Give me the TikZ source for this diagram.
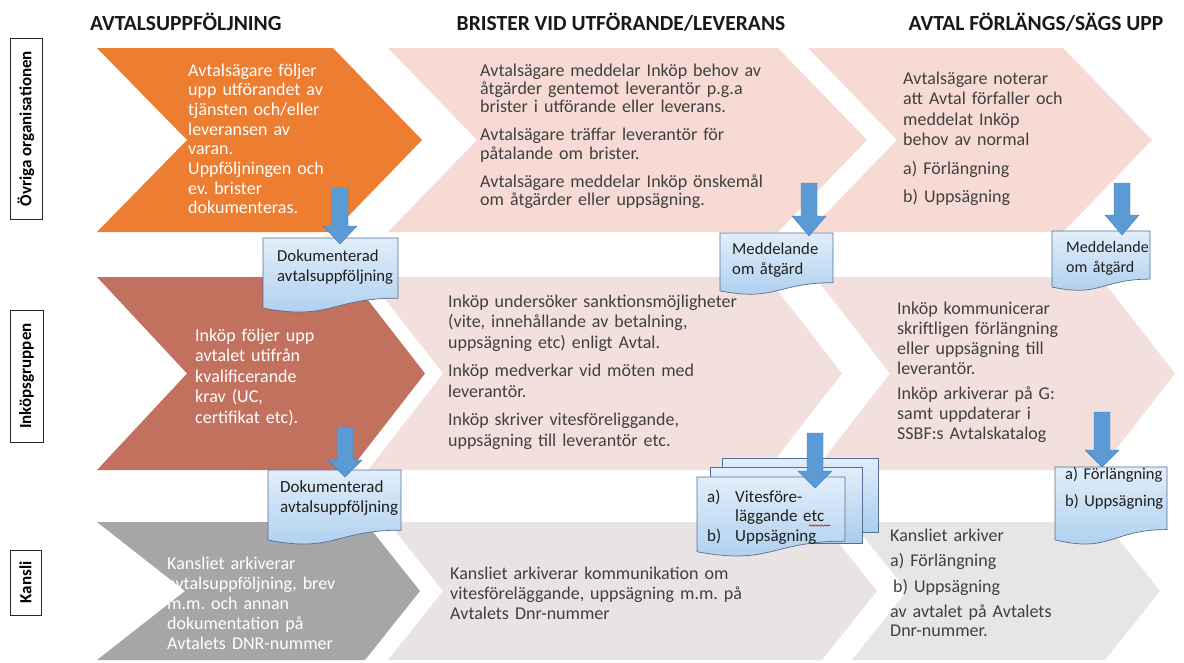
\documentclass[tikz,border=0pt]{standalone}
\usepackage{fontspec}
\setmainfont{Carlito}
\frenchspacing
\usetikzlibrary{decorations.pathmorphing}
\definecolor{orangeC}{RGB}{237,125,49}
\definecolor{brownC}{RGB}{194,113,95}
\definecolor{grayC}{RGB}{166,166,166}
\definecolor{pinkA}{RGB}{247,218,211}
\definecolor{pinkB}{RGB}{243,224,221}
\definecolor{grayB}{RGB}{234,227,227}
\definecolor{grayD}{RGB}{230,230,230}
\definecolor{bodygray}{RGB}{64,64,64}
\definecolor{docTop}{RGB}{226,238,250}
\definecolor{docBot}{RGB}{170,205,238}
\definecolor{docEdge}{RGB}{84,112,150}
\definecolor{arrFill}{RGB}{91,155,213}
\definecolor{arrEdge}{RGB}{70,125,180}
\newcommand{\chevshape}[7]{\fill[#1] (#2,#6) -- (#4,#6) -- (#5,{(#6+#7)/2}) -- (#4,#7) -- (#2,#7) -- (#3,{(#6+#7)/2}) -- cycle;}
\newcommand{\docshape}[4]{\path[docst] (#1,#3) -- (#2,#3) -- (#2,{#3+0.802*#4}) .. controls ({(#1+#2)/2},{#3+0.802*#4}) and ({(#1+#2)/2},{#3+1.107*#4}) .. (#1,{#3+0.934*#4}) -- cycle;}
\newcommand{\blockarrow}[4]{\path[arrst] ({#1-8},#2) -- ({#1+8},#2) -- ({#1+8},#3) -- ({#1+17},#3) -- (#1,#4) -- ({#1-17},#3) -- ({#1-8},#3) -- cycle;}
\begin{document}
\begin{tikzpicture}[x=1pt,y=-1pt,
  txt/.style={anchor=base west, inner sep=0pt, text width=420pt, align=left},
  wtext/.style={txt, text=white},
  dtext/.style={txt, text=bodygray},
  hdr/.style={inner sep=0pt, text=black!90, font=\bfseries\fontsize{21.5}{25}\selectfont},
  lab/.style={draw=black!85, line width=0.8pt, rotate=90, inner sep=0pt, font=\bfseries\fontsize{17}{19}\selectfont},
  docst/.style={draw=docEdge, line width=0.7pt, top color=docTop, bottom color=docBot},
  arrst/.style={fill=arrFill, draw=arrEdge, line width=0.4pt},
  doctext/.style={txt, text=black!88, font=\fontsize{16.7}{20}\selectfont}
]
\useasboundingbox (0,0) rectangle (1184,662);
\fill[white] (0,0) rectangle (1184,662);

% headers
\node[hdr, anchor=base west] (h1) at (90,30) {AVTALSUPPFÖLJNING};
\node[hdr, anchor=base] (h2) at (621,30) {BRISTER VID UTFÖRANDE/LEVERANS};
\node[hdr, anchor=base] (h3) at (1036,30) {AVTAL FÖRLÄNGS/SÄGS UPP};

% row labels
\node[lab, minimum width=181pt, minimum height=32pt] (l1) at (26,128.5) {Övriga organisationen};
\node[lab, minimum width=132pt, minimum height=33pt] (l2) at (26.5,376) {Inköpsgruppen};
\node[lab, minimum width=65pt, minimum height=31pt] (l3) at (25.5,582.5) {Kansli};

% chevrons row 1
\chevshape{orangeC}{97}{187}{333}{422}{48}{232}
\chevshape{pinkA}{388}{477}{778}{867}{48}{232}
\chevshape{pinkA}{808}{897}{1063}{1152}{48}{232}
% row 2
\chevshape{brownC}{97}{187}{350}{425}{277}{470}
\chevshape{pinkB}{368}{443}{767}{842}{277}{470}
\chevshape{pinkB}{815}{890}{1100}{1175}{277}{470}
% row 3
\chevshape{grayC}{97}{185}{365}{420}{522}{660}
\chevshape{grayB}{388}{443}{822}{877}{522}{660}
\chevshape{grayD}{852}{907}{1105}{1160}{522}{660}

% texts row 1
\node[wtext, font=\fontsize{18}{19.7}\selectfont] (t11) at (188,76) {Avtalsägare följer\\upp utförandet av\\tjänsten och/eller\\leveransen av\\varan.\\Uppföljningen och\\ev. brister\\dokumenteras.};
\node[dtext, font=\fontsize{18}{18.3}\selectfont] (t12) at (480,76) {Avtalsägare meddelar Inköp behov av\\åtgärder gentemot leverantör p.g.a\\brister i utförande eller leverans.\\[10pt]Avtalsägare träffar leverantör för\\påtalande om brister.\\[10pt]Avtalsägare meddelar Inköp önskemål\\om åtgärder eller uppsägning.};
\node[dtext, font=\fontsize{18}{20.5}\selectfont] (t13) at (903,84) {Avtalsägare noterar\\att Avtal förfaller och\\meddelat Inköp\\behov av normal\\[8pt]a) Förlängning\\[8pt]b) Uppsägning};

% texts row 2
\node[wtext, font=\fontsize{18}{20.5}\selectfont] (t21) at (195,341) {Inköp följer upp\\avtalet utifrån\\kvalificerande\\krav (UC,\\certifikat etc).};
\node[dtext, font=\fontsize{18}{20.5}\selectfont] (t22) at (448,307) {Inköp undersöker sanktionsmöjligheter\\(vite, innehållande av betalning,\\uppsägning etc) enligt Avtal.\\[8pt]Inköp medverkar vid möten med\\leverantör.\\[8pt]Inköp skriver vitesföreliggande,\\uppsägning till leverantör etc.};
\node[dtext, font=\fontsize{18}{20}\selectfont] (t23) at (897,314) {Inköp kommunicerar\\skriftligen förlängning\\eller uppsägning till\\leverantör.\\[5pt]Inköp arkiverar på G:\\samt uppdaterar i\\SSBF:s Avtalskatalog};

% texts row 3
\node[wtext, font=\fontsize{18}{20}\selectfont] (t31) at (167,569) {Kansliet arkiverar\\avtalsuppföljning, brev\\m.m. och annan\\dokumentation på\\Avtalets DNR-nummer};
\node[dtext, font=\fontsize{18}{20}\selectfont] (t32) at (450,579) {Kansliet arkiverar kommunikation om\\vitesföreläggande, uppsägning m.m. på\\Avtalets Dnr-nummer};
\node[dtext, font=\fontsize{18}{19}\selectfont] (t33) at (890,541) {Kansliet arkiver\\[6.5pt]a) Förlängning\\[6.5pt]\hspace*{3pt}b) Uppsägning\\[6.5pt]av avtalet på Avtalets\\Dnr-nummer.};

% documents
\docshape{263}{398}{238}{75}
\docshape{268}{401}{470}{75}
\docshape{720}{833}{233}{62}
\docshape{1052}{1150}{231}{60}
\path[docst] (722,458) rectangle (878,532);
\path[docst] (710,467) rectangle (862,543);
\docshape{697}{845}{477}{80}
\docshape{1055}{1167}{467}{78}

% arrows
\blockarrow{340}{188}{226}{244}
\blockarrow{345}{427}{460}{477}
\blockarrow{809}{183}{216}{236}
\blockarrow{1122}{183}{215}{235}
\blockarrow{815}{433}{471}{488}
\blockarrow{1102}{412}{450}{467}

% document texts
\node[doctext] (d1) at (277,261) {Dokumenterad\\avtalsuppföljning};
\node[doctext, font=\fontsize{17}{20}\selectfont] (d2) at (280,492) {Dokumenterad\\avtalsuppföljning};
\node[doctext] (d3) at (732,254) {Meddelande\\om åtgärd};
\node[doctext, font=\fontsize{16}{20}\selectfont] (d4) at (1066,252) {Meddelande\\om åtgärd};
\node[doctext, font=\fontsize{17}{19.5}\selectfont] (d5) at (707,502) {\makebox[28pt][l]{a)}Vitesföre-\\\hspace*{28pt}läggande etc\\\makebox[28pt][l]{b)}Uppsägning};
\node[doctext, font=\fontsize{16.5}{20}\selectfont] (d6) at (1065,479) {a) Förlängning\\[7pt]b) Uppsägning};
\draw[red!80!black, line width=0.6pt, decorate, decoration={snake, amplitude=0.7pt, segment length=3pt}] (809,525.5) -- (830,525.5);
\end{tikzpicture}
\end{document}
